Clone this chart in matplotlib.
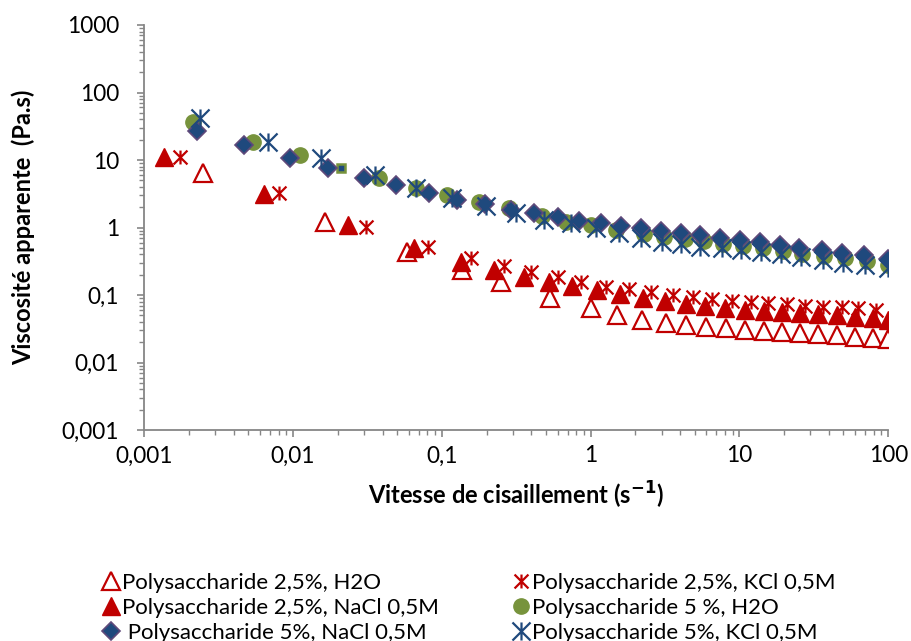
import matplotlib.pyplot as plt
import numpy as np
from matplotlib.path import Path
from matplotlib.ticker import FixedLocator, NullFormatter

plt.rcParams['font.family'] = ['Lato', 'DejaVu Sans']

# 2,5% H2O (open triangle)
ot_x = [0.0025, 0.0165, 0.058, 0.136, 0.25, 0.53, 1.0, 1.5, 2.2, 3.2, 4.4, 6.0, 8.1, 10.9, 14.6, 19.2, 25.5, 33.8, 45, 60, 79, 100]
ot_y = [6.4, 1.2, 0.43, 0.235, 0.155, 0.09, 0.064, 0.051, 0.043, 0.039, 0.036, 0.034, 0.032, 0.0303, 0.0293, 0.0283, 0.0271, 0.0262, 0.0253, 0.0241, 0.0233, 0.0221]
# 2,5% KCl (red asterisk)
ra_x = [0.00175, 0.008, 0.031, 0.081, 0.157, 0.262, 0.397, 0.6, 0.863, 1.27, 1.82, 2.55, 3.57, 4.87, 6.49, 8.85, 11.9, 15.6, 20.8, 27.6, 36.6, 48.7, 63, 83]
ra_y = [11.1, 3.2, 1.03, 0.52, 0.35, 0.269, 0.221, 0.183, 0.157, 0.133, 0.121, 0.112, 0.100, 0.094, 0.086, 0.082, 0.080, 0.077, 0.074, 0.070, 0.067, 0.066, 0.064, 0.060]
# 2,5% NaCl (filled triangle)
ft_x = [0.00137, 0.0064, 0.0234, 0.065, 0.134, 0.225, 0.358, 0.525, 0.75, 1.1, 1.58, 2.24, 3.18, 4.4, 5.85, 8.0, 10.9, 14.6, 19.2, 25.6, 33.7, 45, 60, 79, 100]
ft_y = [11.1, 3.1, 1.09, 0.49, 0.31, 0.235, 0.186, 0.157, 0.135, 0.119, 0.103, 0.092, 0.081, 0.073, 0.069, 0.065, 0.061, 0.0585, 0.056, 0.0535, 0.0517, 0.050, 0.0477, 0.046, 0.043]
# 5% H2O (green circle)
gc_x = [0.00214, 0.00542, 0.0112, 0.0378, 0.0667, 0.109, 0.178, 0.284, 0.475, 0.684, 1.0, 1.49, 2.3, 3.1, 4.3, 5.75, 7.8, 10.6, 14.4, 19.5, 26.5, 37, 51, 72, 100]
gc_y = [36.9, 18.6, 11.9, 5.35, 3.8, 3.03, 2.41, 1.95, 1.48, 1.22, 1.09, 0.918, 0.80, 0.735, 0.67, 0.635, 0.565, 0.535, 0.505, 0.45, 0.405, 0.38, 0.35, 0.32, 0.28]
sq_x = [0.0211]
sq_y = [7.6]
# 5% NaCl (diamond)
dm_x = [0.00225, 0.00472, 0.0095, 0.0172, 0.0299, 0.0489, 0.082, 0.127, 0.195, 0.291, 0.418, 0.6, 0.84, 1.18, 1.61, 2.19, 2.99, 4.07, 5.47, 7.39, 10.1, 13.7, 18.6, 25.2, 35.6, 48.5, 68.7, 100]
dm_y = [27.2, 16.7, 10.6, 7.53, 5.35, 4.26, 3.21, 2.55, 2.23, 1.81, 1.62, 1.42, 1.26, 1.15, 1.05, 0.973, 0.897, 0.82, 0.774, 0.69, 0.653, 0.616, 0.55, 0.492, 0.464, 0.424, 0.391, 0.338]
# 5% KCl (blue asterisk)
ba_x = [0.00237, 0.00678, 0.0155, 0.0355, 0.0667, 0.118, 0.198, 0.315, 0.489, 0.739, 1.09, 1.56, 2.19, 3.0, 4.07, 5.4, 7.6, 10.2, 14, 19, 26, 36.6, 50, 70, 100]
ba_y = [41.4, 18.6, 10.6, 6.0, 3.8, 2.7, 2.08, 1.66, 1.3, 1.15, 0.973, 0.82, 0.69, 0.62, 0.57, 0.52, 0.49, 0.464, 0.44, 0.40, 0.363, 0.33, 0.30, 0.28, 0.25]

labels = ['Polysaccharide 2,5%, H2O', 'Polysaccharide 2,5%, KCl 0,5M',
          'Polysaccharide 2,5%, NaCl 0,5M', 'Polysaccharide 5 %, H2O',
          ' Polysaccharide 5%, NaCl 0,5M', 'Polysaccharide 5%, KCl 0,5M']
xticks = [0.001, 0.01, 0.1, 1, 10, 100]
xticklabels = ['0,001', '0,01', '0,1', '1', '10', '100']
yticks = [0.001, 0.01, 0.1, 1, 10, 100, 1000]
yticklabels = ['0,001', '0,01', '0,1', '1', '10', '100', '1000']

red = '#C00000'
green = '#77933C'
blue = '#1F497D'
purple = '#5F497A'

star = Path([(-1, -1), (1, 1), (-1, 1), (1, -1), (0, -1), (0, 1)],
            [Path.MOVETO, Path.LINETO, Path.MOVETO, Path.LINETO, Path.MOVETO, Path.LINETO])

fig = plt.figure(figsize=(9.12, 6.41), dpi=100)
ax = fig.add_axes([0.158, 0.329, 0.816, 0.632])

h1, = ax.plot(ot_x, ot_y, ls='none', marker='^', ms=13, mfc='white', mec=red, mew=1.6)
h2, = ax.plot(ra_x, ra_y, ls='none', marker=star, ms=10, mec=red, mew=1.6)
h3, = ax.plot(ft_x, ft_y, ls='none', marker='^', ms=13, mfc=red, mec=red, mew=1)
h4, = ax.plot(gc_x, gc_y, ls='none', marker='o', ms=11, mfc=green, mec=green)
ax.plot(sq_x, sq_y, ls='none', marker='s', ms=6, mfc=blue, mec=green, mew=1.8)
h5, = ax.plot(dm_x, dm_y, ls='none', marker='D', ms=9.5, mfc=blue, mec=purple, mew=1.2)
h6, = ax.plot(ba_x, ba_y, ls='none', marker=star, ms=13, mec=blue, mew=1.6)

ax.set_xscale('log')
ax.set_yscale('log')
ax.set_xlim(0.001, 100)
ax.set_ylim(0.001, 1000)

ax.xaxis.set_major_locator(FixedLocator(xticks))
ax.set_xticklabels(xticklabels)
ax.yaxis.set_major_locator(FixedLocator(yticks))
ax.set_yticklabels(yticklabels)
ax.xaxis.set_minor_formatter(NullFormatter())
ax.yaxis.set_minor_formatter(NullFormatter())

for s in ['top', 'right']:
    ax.spines[s].set_visible(False)
for s in ['left', 'bottom']:
    ax.spines[s].set_color('#868686')
    ax.spines[s].set_linewidth(1.3)
ax.tick_params(which='major', direction='out', length=5, width=1.2, color='#868686',
               labelsize=16.3)
ax.tick_params(axis='y', which='major', pad=13)
ax.tick_params(axis='x', which='major', pad=6)
ax.tick_params(which='minor', direction='out', length=3.5, width=1.0, color='#868686')

ax.set_xlabel('Vitesse de cisaillement (s$^{\\mathbf{-1}}$)', fontsize=17, fontweight='bold', labelpad=10)
ax.set_ylabel('Viscosité apparente  (Pa.s)', fontsize=17, fontweight='bold', labelpad=19)

fig.legend([h1, h3, h5, h2, h4, h6],
           [labels[0], labels[2], labels[4], labels[1], labels[3], labels[5]],
           ncol=2, frameon=False, loc='upper left', bbox_to_anchor=(0.1005, 0.12),
           fontsize=16, handletextpad=0.05, handlelength=0.9, columnspacing=3.25,
           labelspacing=0.22, borderaxespad=0)

fig.savefig('out.png', dpi=100)
